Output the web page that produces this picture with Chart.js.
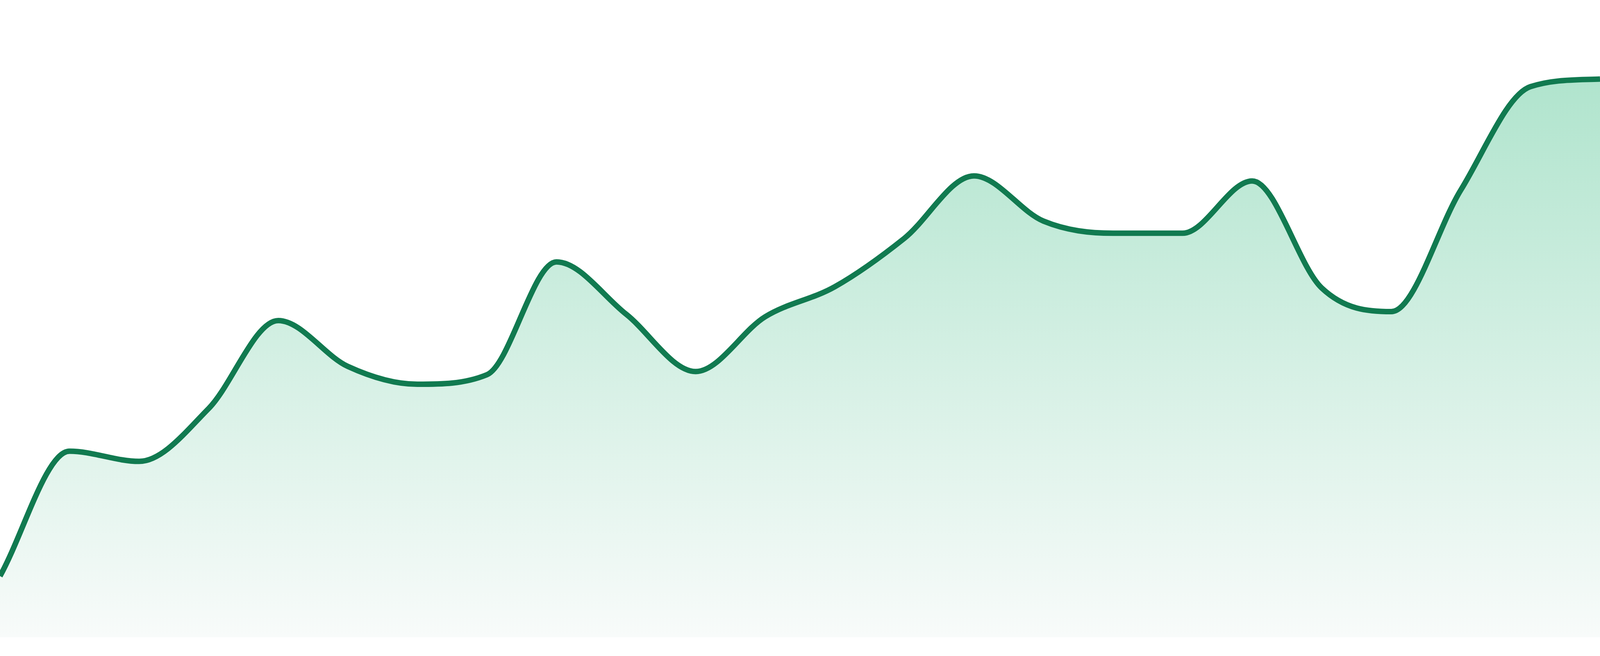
<!DOCTYPE html>
<html>
<head>
<meta charset="utf-8">
<title>Trend</title>
<script src="https://cdn.jsdelivr.net/npm/chart.js@4.4.1/dist/chart.umd.min.js"></script>
<style>
  html, body { margin: 0; padding: 0; background: #ffffff; overflow: hidden; }
  #wrap { width: 100vw; height: 100vh; position: relative; }
</style>
</head>
<body>
<div id="wrap"><canvas id="trend"></canvas></div>
<script>
//hour labels (no axis is shown, one point per hour)
const hours = ["00:00", "01:00", "02:00", "03:00", "04:00", "05:00", "06:00", "07:00",
  "08:00", "09:00", "10:00", "11:00", "12:00", "13:00", "14:00", "15:00",
  "16:00", "17:00", "18:00", "19:00", "20:00", "21:00", "22:00", "23:00"];
//values, 0-100 scale
const values = [9.6, 29.2, 27.6, 35.9, 49.7, 42.5, 39.7, 41.2,
  58.9, 50.7, 41.7, 50.3, 55.0, 62.6, 72.4, 65.3,
  63.4, 63.4, 71.6, 54.8, 51.1, 70.2, 86.4, 87.6];
const yMin = 0;
const yMax = 100;

const lineColor = "#117a50";

//sizes were measured on a 1680px tall picture, scale them to the window
const k = window.innerHeight / 1680;

//vertical fade under the line
const areaFill = (context) => {
  const { ctx, chartArea } = context.chart;
  if (!chartArea) return "rgba(168,226,200,0.5)";
  const g = ctx.createLinearGradient(0, chartArea.top, 0, chartArea.bottom);
  g.addColorStop(0, "rgb(166,225,199)");
  g.addColorStop(1, "rgb(248,251,250)");
  return g;
};

const trendChart = new Chart(document.getElementById("trend"), {
  type: "line",
  data: {
    labels: hours,
    datasets: [
      {
        data: values,
        borderColor: lineColor,
        borderWidth: 14 * k,
        backgroundColor: areaFill,
        fill: "start",
        pointRadius: 0,
        cubicInterpolationMode: "monotone",
      },
    ],
  },
  options: {
    responsive: true,
    maintainAspectRatio: false,
    animation: false,
    layout: { padding: { top: 0, left: 0, right: 0, bottom: 48 * k } },
    plugins: {
      legend: { display: false },
      tooltip: { enabled: false },
    },
    scales: {
      x: { display: false },
      y: { display: false, min: yMin, max: yMax },
    },
  },
});
</script>
</body>
</html>
